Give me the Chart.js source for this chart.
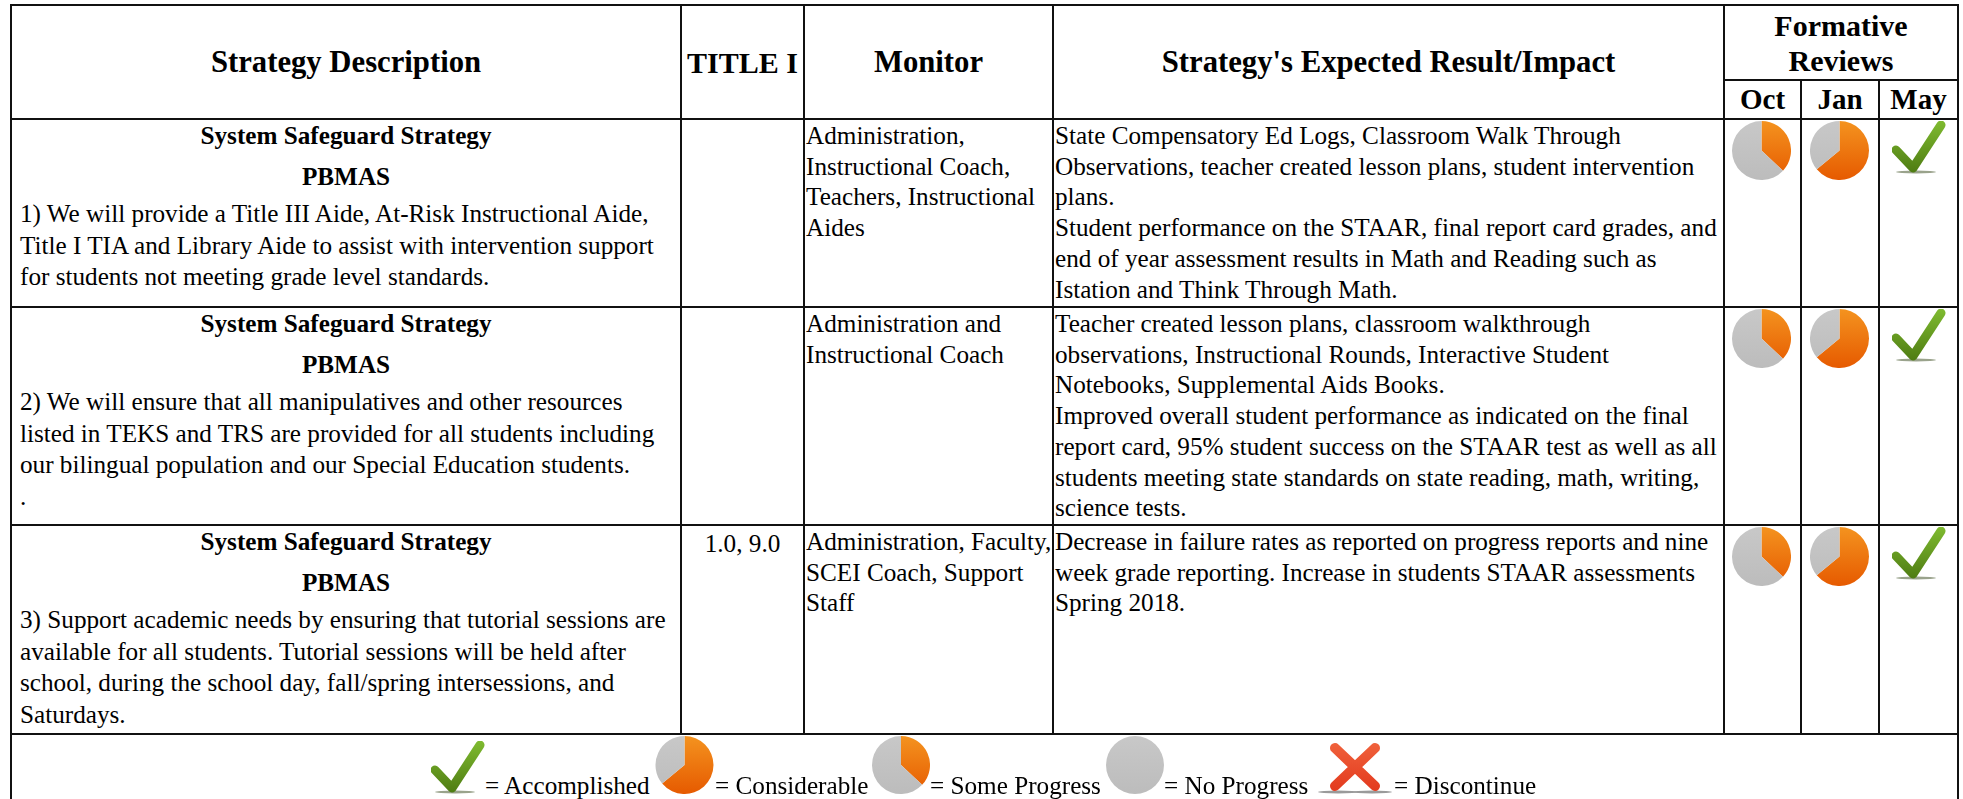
<!DOCTYPE html>
<html>
<head>
<meta charset="utf-8">
<title>Formative Reviews</title>
<script src="https://cdn.jsdelivr.net/npm/chart.js@4"></script>
<style>
  html, body { margin: 0; padding: 0; background: #fff; overflow: hidden; }
  body { width: 1963px; height: 799px; position: relative; font-family: "Liberation Serif", serif; color: #000; }
  table { position: absolute; left: 10px; top: 4px; width: 1949px; border-collapse: collapse; table-layout: fixed; }
  th, td { border: 2px solid #111; padding: 0; vertical-align: top; font-size: 25.2px; line-height: 30.7px; white-space: nowrap; }
  th { font-size: 30.7px; line-height: 35px; vertical-align: middle; text-align: center; }
  th.narrow, .sub th, .review { font-size: 30px; }
  .sub th { font-size: 29px; }
  .lead { text-align: center; font-weight: bold; }
  .lead + .lead { margin-top: 9px; margin-bottom: 6px; }
  .strategy { padding: 0 8px; line-height: 31.5px; }
  .plain { padding: 1px 0 0 1px; }
  .mid { text-align: center; padding-top: 3px; }
  .icon { position: absolute; filter: blur(0.5px); }
  canvas.icon { display: block; }
  .key { position: absolute; font-size: 25.2px; line-height: 30px; white-space: nowrap; }
</style>
</head>
<body>
<table id="grid"></table>
<script>
const headers = ['Strategy Description', 'TITLE I', 'Monitor', "Strategy's Expected Result/Impact"];
const reviewHeader = ['Formative', 'Reviews'];
const reviewMonths = ['Oct', 'Jan', 'May'];
const leadLines = ['System Safeguard Strategy', 'PBMAS'];

const strategies = [
  ['1) We will provide a Title III Aide, At-Risk Instructional Aide,',
   'Title I TIA and Library Aide to assist with intervention support',
   'for students not meeting grade level standards.'],
  ['2) We will ensure that all manipulatives and other resources',
   'listed in TEKS and TRS are provided for all students including',
   'our bilingual population and our Special Education students.',
   '.'],
  ['3) Support academic needs by ensuring that tutorial sessions are',
   'available for all students. Tutorial sessions will be held after',
   'school, during the school day, fall/spring intersessions, and',
   'Saturdays.']
];
const titleOne = ['', '', '1.0, 9.0'];
const monitors = [
  ['Administration,', 'Instructional Coach,', 'Teachers, Instructional', 'Aides'],
  ['Administration and', 'Instructional Coach'],
  ['Administration, Faculty,', 'SCEI Coach, Support', 'Staff']
];
const impacts = [
  ['State Compensatory Ed Logs, Classroom Walk Through',
   'Observations, teacher created lesson plans, student intervention',
   'plans.',
   'Student performance on the STAAR, final report card grades, and',
   'end of year assessment results in Math and Reading such as',
   'Istation and Think Through Math.'],
  ['Teacher created lesson plans, classroom walkthrough',
   'observations, Instructional Rounds, Interactive Student',
   'Notebooks, Supplemental Aids Books.',
   'Improved overall student performance as indicated on the final',
   'report card, 95% student success on the STAAR test as well as all',
   'students meeting state standards on state reading, math, writing,',
   'science tests.'],
  ['Decrease in failure rates as reported on progress reports and nine',
   'week grade reporting. Increase in students STAAR assessments',
   'Spring 2018.']
];

// orange share of each pie
const someProgress = [37, 63];
const considerable = [64, 36];
const noProgress = [0, 100];

const octReviews = [someProgress, someProgress, someProgress];
const janReviews = [considerable, considerable, considerable];
const mayReviews = ['check', 'check', 'check'];

const keyLabels = ['= Accomplished', '= Considerable', '= Some Progress', '= No Progress', '= Discontinue'];

const colWidths = [670, 123, 249, 671, 77, 78, 79];
const rowHeights = [75, 39, 188, 218, 209, 70];
const rowTops = [119, 307, 525];
const reviewLefts = [1732, 1810, 1891];

const lines = (arr) => arr.map(s => '<div>' + s + '</div>').join('');

let html = '<colgroup>' + colWidths.map(w => '<col style="width:' + w + 'px">').join('') + '</colgroup>';
html += '<tr style="height:' + rowHeights[0] + 'px">';
headers.forEach((h, i) => { html += '<th rowspan="2"' + (i === 1 ? ' class="narrow"' : '') + '>' + h + '</th>'; });
html += '<th colspan="3" class="review">' + lines(reviewHeader) + '</th></tr>';
html += '<tr class="sub" style="height:' + rowHeights[1] + 'px">' + reviewMonths.map(m => '<th>' + m + '</th>').join('') + '</tr>';
for (let i = 0; i < strategies.length; i++) {
  html += '<tr style="height:' + rowHeights[i + 2] + 'px">';
  html += '<td class="strategy">' + leadLines.map(l => '<div class="lead">' + l + '</div>').join('') + lines(strategies[i]) + '</td>';
  html += '<td class="mid">' + titleOne[i] + '</td>';
  html += '<td class="plain">' + lines(monitors[i]) + '</td>';
  html += '<td class="plain">' + lines(impacts[i]) + '</td>';
  html += '<td></td><td></td><td></td></tr>';
}
html += '<tr style="height:' + rowHeights[5] + 'px"><td colspan="7"></td></tr>';
document.getElementById('grid').innerHTML = html;

function addPie(values, x, y, w, h) {
  const c = document.createElement('canvas');
  c.className = 'icon';
  c.width = w;
  c.height = h;
  c.style.left = x + 'px';
  c.style.top = y + 'px';
  c.style.width = w + 'px';
  c.style.height = h + 'px';
  document.body.appendChild(c);
  const ctx = c.getContext('2d');
  const orange = ctx.createLinearGradient(0, 0, 0, h);
  orange.addColorStop(0, '#f4931f');
  orange.addColorStop(1, '#e65a00');
  const grey = ctx.createLinearGradient(0, 0, 0, h);
  grey.addColorStop(0, '#c8c8c8');
  grey.addColorStop(1, '#bcbcbc');
  new Chart(ctx, {
    type: 'pie',
    data: {
      labels: ['Done', 'Remaining'],
      datasets: [{
        data: values,
        backgroundColor: [orange, grey],
        borderWidth: 0,
        hoverOffset: 0
      }]
    },
    options: {
      responsive: false,
      animation: false,
      events: [],
      plugins: { legend: { display: false }, tooltip: { enabled: false } }
    }
  });
}

function addMark(kind, x, y, w, h) {
  const check = kind === 'check';
  const top = check ? '#7fbb30' : '#f0623c';
  const bottom = check ? '#4d7a12' : '#e2371c';
  const shape = check
    ? '<polyline points="' + [4, 29, 21, 47, 49, 4].join(' ') + '" fill="none"/>'
    : '<path d="M18 6 L58 44 M58 6 L18 44" fill="none"/>';
  const shadow = check
    ? '<ellipse cx="24" cy="51" rx="20" ry="1.5" fill="#9aa38c"/>'
    : '<ellipse cx="21" cy="50" rx="20" ry="1.5" fill="#9a9a9a"/><ellipse cx="55" cy="50" rx="20" ry="1.5" fill="#9a9a9a"/>';
  const id = 'g' + x + '_' + y;
  const svg = '<svg class="icon" xmlns="http://www.w3.org/2000/svg" width="' + w + '" height="' + h + '" viewBox="0 0 ' + w + ' ' + h + '"'
    + ' style="left:' + x + 'px;top:' + y + 'px">'
    + '<defs><linearGradient id="' + id + '" gradientUnits="userSpaceOnUse" x1="0" y1="0" x2="0" y2="' + h + '">'
    + '<stop offset="0" stop-color="' + top + '"/><stop offset="1" stop-color="' + bottom + '"/></linearGradient></defs>'
    + shadow
    + '<g stroke="url(#' + id + ')" stroke-width="' + (check ? 9 : 10) + '" stroke-linecap="round" stroke-linejoin="round">' + shape + '</g></svg>';
  document.body.insertAdjacentHTML('beforeend', svg);
}

function addReview(value, x, y) {
  if (value === 'check') addMark('check', x + 1, y, 54, 53);
  else addPie(value, x, y, 59, 59);
}

[octReviews, janReviews, mayReviews].forEach((series, col) => {
  series.forEach((value, row) => addReview(value, reviewLefts[col], rowTops[row] + 2));
});

// legend strip under the table
addMark('check', 431, 741, 54, 53);
addPie(considerable, 655, 736, 59, 58);
addPie(someProgress, 872, 736, 58, 58);
addPie(noProgress, 1106, 736, 58, 58);
addMark('cross', 1317, 742, 76, 52);

const keyLefts = [485, 715, 930, 1164, 1394];
keyLabels.forEach((label, i) => {
  const s = document.createElement('span');
  s.className = 'key';
  s.textContent = label;
  s.style.left = keyLefts[i] + 'px';
  s.style.top = '771px';
  document.body.appendChild(s);
});
</script>
</body>
</html>
